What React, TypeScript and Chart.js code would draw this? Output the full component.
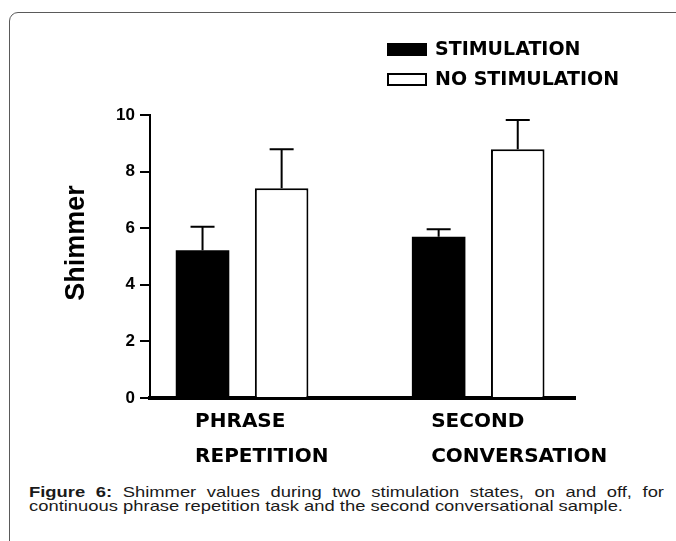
import React, { useEffect, useRef } from "react";
import { Chart, registerables } from "chart.js";

Chart.register(...registerables);

// ---- data ----
const categories: string[][] = [
  ["PHRASE", "REPETITION"],
  ["SECOND", "CONVERSATION"],
];
const seriesLabels = ["STIMULATION", "NO STIMULATION"];
const stimulation = [5.22, 5.7];
const stimulationErr = [0.83, 0.26];
const noStimulation = [7.41, 8.79];
const noStimulationErr = [1.38, 1.03];
const yMin = 0;
const yMax = 10;
const yStep = 2;
const yTitle = "Shimmer";

const errorBarPlugin = {
  id: "errorBars",
  afterDatasetsDraw(chart: any) {
    const { ctx } = chart;
    const y = chart.scales.y;
    chart.data.datasets.forEach((ds: any, di: number) => {
      const meta = chart.getDatasetMeta(di);
      meta.data.forEach((bar: any, i: number) => {
        const v = ds.data[i].y;
        const e = ds.errors[i];
        const yTop = y.getPixelForValue(v + e);
        const yBar = y.getPixelForValue(v);
        ctx.save();
        ctx.strokeStyle = "#000";
        ctx.lineWidth = 2;
        ctx.beginPath();
        ctx.moveTo(bar.x, yBar);
        ctx.lineTo(bar.x, yTop);
        ctx.moveTo(bar.x - 12, yTop);
        ctx.lineTo(bar.x + 12, yTop);
        ctx.stroke();
        ctx.restore();
      });
    });
  },
};

const decorPlugin = {
  id: "decor",
  afterDraw(chart: any) {
    const { ctx } = chart;
    ctx.save();
    // legend
    chart.data.datasets.forEach((ds: any, i: number) => {
      const top = 43 + i * 30;
      ctx.fillStyle = ds.backgroundColor;
      ctx.fillRect(387, top, 40, 13);
      if (ds.borderWidth) {
        ctx.strokeStyle = ds.borderColor;
        ctx.lineWidth = 2;
        ctx.strokeRect(388, top + 1, 38, 11);
      }
      ctx.fillStyle = "#000";
      ctx.font = "bold 19px 'DejaVu Sans'";
      ctx.textAlign = "left";
      ctx.textBaseline = "middle";
      ctx.fillText(ds.label, 435, top + 7);
    });
    // y title
    ctx.translate(77, 243);
    ctx.rotate(-Math.PI / 2);
    ctx.font = "bold 27px 'Liberation Sans'";
    ctx.textAlign = "center";
    ctx.textBaseline = "middle";
    ctx.fillStyle = "#000";
    ctx.fillText(yTitle, 0, 0);
    ctx.restore();
  },
};

export default function App() {
  const ref = useRef<HTMLCanvasElement | null>(null);

  useEffect(() => {
    if (!ref.current) return;
    const chart = new Chart(ref.current, {
      type: "bar",
      data: {
        datasets: [
          {
            label: seriesLabels[0],
            data: stimulation.map((v, i) => ({ x: i, y: v })),
            backgroundColor: "#000",
            borderColor: "#000",
            borderWidth: 0,
            categoryPercentage: 0.67,
            barPercentage: 0.677,
            errors: stimulationErr,
          } as any,
          {
            label: seriesLabels[1],
            data: noStimulation.map((v, i) => ({ x: i, y: v })),
            backgroundColor: "#fff",
            borderColor: "#000",
            borderWidth: 2,
            categoryPercentage: 0.67,
            barPercentage: 0.677,
            errors: noStimulationErr,
          } as any,
        ],
      },
      options: {
        animation: false,
        responsive: false,
        maintainAspectRatio: false,
        layout: { padding: { top: 115, right: 101, left: 0, bottom: 0 } },
        plugins: { legend: { display: false }, tooltip: { enabled: false } },
        scales: {
          x: {
            type: "linear",
            offset: false,
            min: -0.39,
            max: 1.41,
            afterBuildTicks: (s: any) => {
              s.ticks = categories.map((_, i) => ({ value: i }));
            },
            afterFit: (s: any) => {
              s.height = 470 - 398;
            },
            grid: { display: false },
            border: { display: true, color: "#000", width: 4 },
            ticks: {
              callback: (_v: any, i: number) => categories[i],
              align: "start",
              labelOffset: -47,
              padding: -2,
              autoSkip: false,
              maxRotation: 0,
              color: "#000",
              font: { family: "'DejaVu Sans'", weight: "bold", size: 20, lineHeight: 1.75 },
            },
          } as any,
          y: {
            min: yMin,
            max: yMax,
            ticks: {
              stepSize: yStep,
              color: "#000",
              padding: 5,
              font: { family: "'Liberation Sans'", weight: "bold", size: 17 },
            },
            grid: {
              display: true,
              drawOnChartArea: false,
              drawTicks: true,
              tickLength: 10,
              color: "#000",
              lineWidth: 2,
            },
            border: { display: true, color: "#000", width: 2 },
            afterFit: (s: any) => {
              s.width = 150;
            },
          } as any,
        },
      },
      plugins: [errorBarPlugin, decorPlugin],
    });
    return () => chart.destroy();
  }, []);

  return (
    <div
      style={{
        position: "relative",
        width: 676,
        height: 541,
        overflow: "hidden",
        background: "#fff",
      }}
    >
      <style>{"body{margin:0;}"}</style>
      <div
        style={{
          position: "absolute",
          left: 9,
          top: 12,
          width: 720,
          height: 620,
          border: "1px solid #5a5a5a",
          borderRadius: 9,
          boxSizing: "border-box",
        }}
      />
      <canvas
        ref={ref}
        width={676}
        height={470}
        style={{ position: "absolute", left: 0, top: 0, width: 676, height: 470 }}
      />
      <div
        style={{
          position: "absolute",
          left: 29,
          top: 485,
          width: 635,
          fontFamily: "'Liberation Sans', Arial, sans-serif",
          fontSize: 18.4,
          lineHeight: "16.5px",
          textAlign: "justify",
          color: "#1a1a1a",
          transform: "scaleY(0.833)",
          transformOrigin: "top left",
        }}
      >
        <b>Figure 6:</b> Shimmer values during two stimulation states, on and off, for continuous
        phrase repetition task and the second conversational sample.
      </div>
    </div>
  );
}
